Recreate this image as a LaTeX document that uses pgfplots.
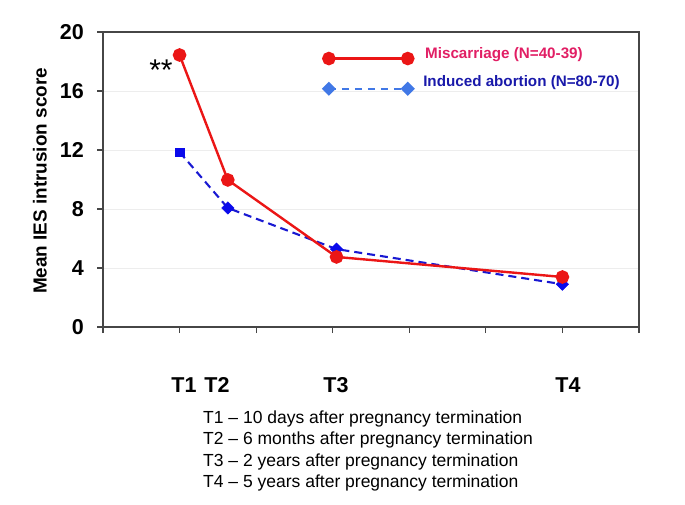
\documentclass[border=0pt]{standalone}
\usepackage{fontspec}
\setmainfont{Liberation Sans}
\usepackage{pgfplots}
\pgfplotsset{compat=1.18}
\definecolor{mred}{RGB}{235,22,22}
\definecolor{mtext}{RGB}{225,30,100}
\definecolor{aline}{RGB}{25,25,210}
\definecolor{amark}{RGB}{10,10,235}
\definecolor{aleg}{RGB}{65,120,230}
\definecolor{atext}{RGB}{25,25,170}
\definecolor{axc}{RGB}{70,70,70}
\begin{document}
\begin{tikzpicture}[x=1pt,y=1pt]
\useasboundingbox (0,0) rectangle (685,504);
\begin{axis}[
  at={(103pt,177pt)}, anchor=south west,
  scale only axis, width=536pt, height=295pt,
  xmin=0, xmax=7, ymin=0, ymax=20,
  xtick={0,1,...,7}, xticklabels={},
  ytick={0,4,...,20},
  tick align=outside, tick pos=left,
  major tick length=6pt,
  axis line style={draw=axc, line width=1.1pt},
  every tick/.style={draw=axc, line width=1.1pt},
  ymajorgrids, grid style={draw=black!7, line width=0.8pt},
  /pgf/number format/assume math mode=true,
  yticklabel style={font=\fontsize{21.5}{21.5}\selectfont\bfseries, inner sep=1pt, xshift=-12pt},
  ylabel={Mean IES intrusion score},
  ylabel style={font=\fontsize{18.9}{18.9}\selectfont\bfseries, at={(axis description cs:-0.118,0.495)}, anchor=center},
  clip=false,
]
% Induced abortion
\addplot[aline, line width=2.1pt, dash pattern=on 8pt off 5pt, forget plot] coordinates {(1,11.86) (1.63,8.07) (3.05,5.28) (6.0,2.9)};
\addplot[only marks, mark=square*, mark size=4.3pt, amark, forget plot] coordinates {(1,11.86)};
\addplot[only marks, mark=square*, mark size=4.4pt, mark options={rotate=45}, amark, forget plot] coordinates {(1.63,8.07) (3.05,5.28) (6.0,2.9)};
% Miscarriage
\addplot[mred, line width=2.4pt, mark=*, mark size=5.6pt, mark options={solid}] coordinates {(1,18.44) (1.63,9.97) (3.05,4.75) (6.0,3.39)};
% legend samples
\addplot[mred, line width=2.4pt, mark=*, mark size=5.6pt] coordinates {(2.95,18.2) (3.98,18.2)};
\addplot[aleg, line width=2pt, dash pattern=on 7pt off 6pt, mark=square*, mark size=4pt, mark options={solid, rotate=45}] coordinates {(2.95,16.15) (3.98,16.15)};
\node[anchor=west, inner sep=0pt, text=mtext, font=\fontsize{15.2}{15.2}\selectfont\bfseries] at (axis cs:4.205,18.44) {Miscarriage (N=40-39)};
\node[anchor=west, inner sep=0pt, text=atext, font=\fontsize{15.2}{15.2}\selectfont\bfseries] at (axis cs:4.18,16.54) {Induced abortion (N=80-70)};
\node[anchor=base, inner sep=0pt, font=\fontsize{30}{30}\selectfont] at (axis cs:0.757,16.72) {**};
% time point labels
\node[anchor=base, inner sep=0pt, font=\fontsize{21.5}{21.5}\selectfont\bfseries] at (axis cs:1.058,-4.47) {T1};
\node[anchor=base, inner sep=0pt, font=\fontsize{21.5}{21.5}\selectfont\bfseries] at (axis cs:1.489,-4.47) {T2};
\node[anchor=base, inner sep=0pt, font=\fontsize{21.5}{21.5}\selectfont\bfseries] at (axis cs:3.043,-4.47) {T3};
\node[anchor=base, inner sep=0pt, font=\fontsize{21.5}{21.5}\selectfont\bfseries] at (axis cs:6.073,-4.47) {T4};
\end{axis}
\node[anchor=base west, inner sep=0pt, font=\fontsize{17.5}{17.5}\selectfont] at (203,81) {T1 -- 10 days after pregnancy termination};
\node[anchor=base west, inner sep=0pt, font=\fontsize{17.5}{17.5}\selectfont] at (203,59.5) {T2 -- 6 months after pregnancy termination};
\node[anchor=base west, inner sep=0pt, font=\fontsize{17.5}{17.5}\selectfont] at (203,38) {T3 -- 2 years after pregnancy termination};
\node[anchor=base west, inner sep=0pt, font=\fontsize{17.5}{17.5}\selectfont] at (203,17) {T4 -- 5 years after pregnancy termination};
\end{tikzpicture}
\end{document}
